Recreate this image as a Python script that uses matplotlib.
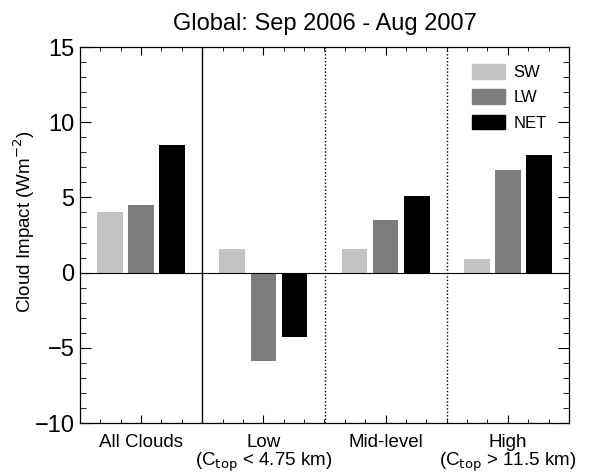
import numpy as np
import matplotlib.pyplot as plt
from matplotlib.ticker import MultipleLocator, FixedLocator
import matplotlib.patches as mpatches

plt.rcParams['font.family'] = ['Liberation Sans', 'DejaVu Sans']

# ── Data ──────────────────────────────────────────────────────────────────────
categories = ["All Clouds", "Low\n(C$_{\\rm top}$ < 4.75 km)", "Mid-level",
              "High\n(C$_{\\rm top}$ > 11.5 km)"]
sw_vals = [4.0, 1.6, 1.6, 0.9]
lw_vals = [4.5, -5.9, 3.5, 6.8]
net_vals = [8.5, -4.3, 5.1, 7.8]

SW_COLOR = "#c3c3c3"
LW_COLOR = "#7d7d7d"
NET_COLOR = "#000000"

x = np.arange(len(categories))
width = 0.21
offset = 0.255

fig = plt.figure(figsize=(5.91, 4.74), dpi=100)
ax = fig.add_axes([80 / 591, 1 - 423 / 474, (569 - 80) / 591, (423 - 47) / 474])

ax.bar(x - offset, sw_vals, width, color=SW_COLOR)
ax.bar(x, lw_vals, width, color=LW_COLOR)
ax.bar(x + offset, net_vals, width, color=NET_COLOR)

ax.axhline(0, color="black", linewidth=0.8)

# panel separators
ax.axvline(0.5, color="black", linewidth=1.0)
ax.axvline(1.5, color="black", linewidth=1.0, linestyle=(0, (1, 1.5)))
ax.axvline(2.5, color="black", linewidth=1.0, linestyle=(0, (1, 1.5)))

ax.set_xlim(-0.5, 3.5)
ax.set_ylim(-10, 15)

ax.set_xticks(x)
ax.set_xticklabels(categories, fontsize=13.5, linespacing=0.95)
ax.xaxis.set_minor_locator(FixedLocator(np.arange(-0.5, 3.51, 1 / 6)))
ax.yaxis.set_major_locator(MultipleLocator(5))
ax.yaxis.set_minor_locator(MultipleLocator(1))
ax.tick_params(axis="both", which="both", direction="in", top=True, right=True)
ax.tick_params(axis="y", which="major", length=8, labelsize=17, pad=4)
ax.tick_params(axis="y", which="minor", length=4)
ax.tick_params(axis="x", which="major", length=6, pad=8)
ax.tick_params(axis="x", which="minor", length=3)

ax.set_ylabel("Cloud Impact (Wm$^{-2}$)", fontsize=13.5)
ax.yaxis.set_label_coords(-0.088, 0.535)
ax.set_title("Global: Sep 2006 - Aug 2007", fontsize=17, pad=12)

handles = [
    mpatches.Patch(color=SW_COLOR, label="SW"),
    mpatches.Patch(color=LW_COLOR, label="LW"),
    mpatches.Patch(color=NET_COLOR, label="NET"),
]
ax.legend(handles=handles, loc="upper right", frameon=False, fontsize=12,
          handlelength=2.0, handleheight=1.0, labelspacing=0.55,
          handletextpad=0.5, bbox_to_anchor=(0.985, 0.995))

for s in ax.spines.values():
    s.set_linewidth(0.9)

fig.savefig("out.png", dpi=100)
